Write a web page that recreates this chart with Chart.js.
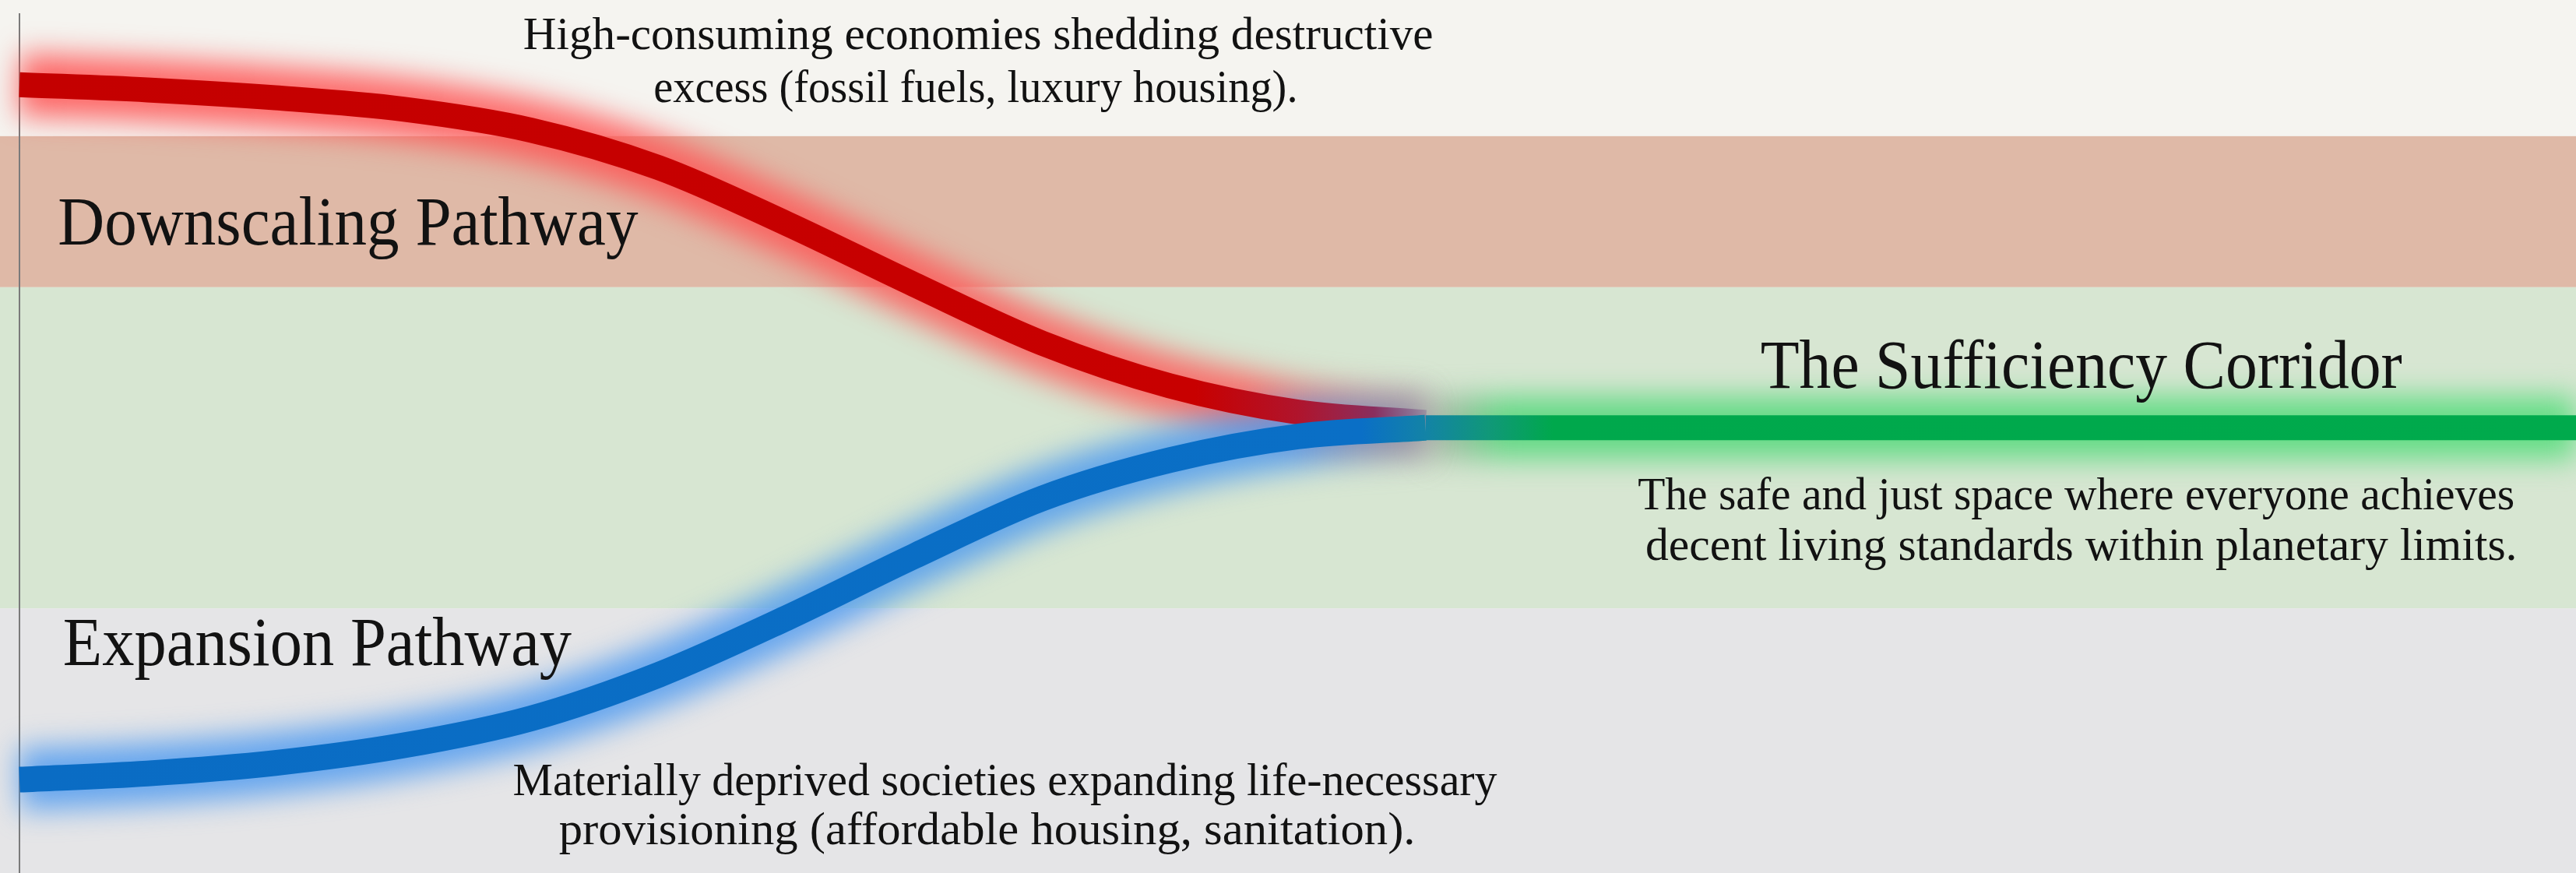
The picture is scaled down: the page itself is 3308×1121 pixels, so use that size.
<!DOCTYPE html>
<html lang="en">
<head>
<meta charset="UTF-8">
<title>The Sufficiency Corridor</title>
<script src="https://cdn.jsdelivr.net/npm/chart.js"></script>
<style>
  html, body { margin: 0; padding: 0; background: #f5f4f0; overflow: hidden; }
  .chart-container { position: relative; width: 3308px; height: 1121px; }
</style>
</head>
<body>
<div class="chart-container"><canvas id="corridorChart"></canvas></div>
<script>
// steps along the pathway (0 = left axis, 100 = right edge)
const steps = [0, 5, 10, 15, 20, 25, 30, 35, 40, 45, 50, 55];
// consumption level of each pathway (0 = bottom, 100 = top)
const downscaling = [90.3, 89.7, 88.8, 87.5, 85.1, 80.8, 74.4, 67.4, 60.7, 55.8, 52.8, 51.6];
const expansion = [10.7, 11.4, 12.6, 14.6, 17.7, 22.7, 29.2, 36.3, 42.9, 47.3, 50.0, 51.0];
const corridorSteps = [55, 100];
const corridor = [51.0, 51.0];

// zone limits on the consumption axis, top to bottom
const zoneEdges = [100, 84.4, 67.1, 30.3, 0];
const zoneColors = ['#f5f4f0', '#dfb9a7', '#d7e6d2', '#e5e5e7'];

// labels: each line has left/right extent and baseline in chart units
const labels = [
  { text: 'High-consuming economies shedding destructive', x0: 19.7, x1: 55.3, y: 94.4, size: 60 },
  { text: 'excess (fossil fuels, luxury housing).', x0: 24.8, x1: 50.0, y: 88.3, size: 60 },
  { text: 'Downscaling Pathway', x0: 1.5, x1: 24.2, y: 72.0, size: 88 },
  { text: 'The Sufficiency Corridor', x0: 68.1, x1: 93.2, y: 55.6, size: 88 },
  { text: 'The safe and just space where everyone achieves', x0: 63.3, x1: 97.6, y: 41.7, size: 60 },
  { text: 'decent living standards within planetary limits.', x0: 63.6, x1: 97.7, y: 35.9, size: 60 },
  { text: 'Expansion Pathway', x0: 1.7, x1: 21.6, y: 23.8, size: 88 },
  { text: 'Materially deprived societies expanding life-necessary', x0: 19.3, x1: 57.8, y: 8.9, size: 60 },
  { text: 'provisioning (affordable housing, sanitation).', x0: 21.1, x1: 54.6, y: 3.3, size: 60 }
];

const toPoints = (xs, ys) => xs.map((x, i) => ({ x: x, y: ys[i] }));

// horizontal gradient built from scale values
function gradient(chart, stops) {
  const area = chart.chartArea;
  if (!area) return stops[0][1];
  const xs = chart.scales.x;
  const g = chart.ctx.createLinearGradient(area.left, 0, area.right, 0);
  stops.forEach(s => {
    const p = (xs.getPixelForValue(s[0]) - area.left) / (area.right - area.left);
    g.addColorStop(Math.min(1, Math.max(0, p)), s[1]);
  });
  return g;
}

const zonesPlugin = {
  id: 'zones',
  beforeDraw(chart) {
    const ctx = chart.ctx;
    const y = chart.scales.y;
    ctx.save();
    for (let i = 0; i < zoneColors.length; i++) {
      const top = y.getPixelForValue(zoneEdges[i]);
      const bottom = y.getPixelForValue(zoneEdges[i + 1]);
      ctx.fillStyle = zoneColors[i];
      ctx.fillRect(0, top, chart.width, bottom - top);
    }
    // left axis line
    ctx.strokeStyle = '#7a7a7a';
    ctx.lineWidth = 2;
    ctx.beginPath();
    ctx.moveTo(chart.chartArea.left, 17);
    ctx.lineTo(chart.chartArea.left, chart.height);
    ctx.stroke();
    ctx.restore();
  }
};

// halo datasets are drawn through a blur filter
const glowPlugin = {
  id: 'glow',
  beforeDatasetDraw(chart, args) {
    const ds = chart.data.datasets[args.index];
    if (!ds.blur) return;
    chart.ctx.save();
    chart.ctx.filter = 'blur(' + ds.blur + 'px)';
  },
  afterDatasetDraw(chart, args) {
    if (chart.data.datasets[args.index].blur) chart.ctx.restore();
  }
};

const labelsPlugin = {
  id: 'labels',
  afterDatasetsDraw(chart) {
    const ctx = chart.ctx;
    const xs = chart.scales.x, ys = chart.scales.y;
    ctx.save();
    ctx.fillStyle = '#121212';
    ctx.textBaseline = 'alphabetic';
    ctx.textAlign = 'left';
    labels.forEach(l => {
      ctx.font = l.size + 'px "Liberation Serif", "Times New Roman", serif';
      const left = xs.getPixelForValue(l.x0);
      const width = xs.getPixelForValue(l.x1) - left;
      const natural = ctx.measureText(l.text).width;
      ctx.save();
      ctx.translate(left, ys.getPixelForValue(l.y));
      ctx.scale(width / natural, 1);
      ctx.fillText(l.text, 0, 0);
      ctx.restore();
    });
    ctx.restore();
  }
};

const ctxCorridor = document.getElementById('corridorChart').getContext('2d');
new Chart(ctxCorridor, {
  type: 'line',
  data: {
    datasets: [
      {
        label: 'Expansion Pathway',
        data: toPoints(steps, expansion),
        borderColor: c => gradient(c.chart, [[0, '#0a6cc4'], [52.5, '#0a6fc6'], [55, '#1383a6']]),
        borderWidth: 33,
        order: 0
      },
      {
        label: 'Downscaling Pathway',
        data: toPoints(steps, downscaling),
        borderColor: c => gradient(c.chart, [[0, '#c40000'], [46, '#c80000'], [50, '#b0142c'], [53, '#8a2e5e'], [55, 'rgba(110, 70, 130, 0.3)']]),
        borderWidth: 32,
        order: 1
      },
      {
        label: 'The Sufficiency Corridor',
        data: toPoints(corridorSteps, corridor),
        borderColor: c => gradient(c.chart, [[55, '#1383a6'], [57.5, '#109878'], [60, '#00a84c'], [100, '#00aa4c']]),
        borderWidth: 32,
        order: 2
      },
      {
        label: 'halo expansion',
        data: toPoints(steps, expansion),
        borderColor: c => gradient(c.chart, [[0, 'rgba(70, 150, 240, 0.8)'], [50, 'rgba(70, 150, 240, 0.8)'], [55, 'rgba(130, 130, 150, 0.5)']]),
        borderWidth: 80,
        blur: 18,
        order: 10
      },
      {
        label: 'halo downscaling',
        data: toPoints(steps, downscaling),
        borderColor: c => gradient(c.chart, [[0, 'rgba(255, 80, 80, 0.85)'], [48, 'rgba(255, 85, 85, 0.8)'], [55, 'rgba(160, 120, 140, 0.5)']]),
        borderWidth: 80,
        blur: 18,
        order: 11
      },
      {
        label: 'halo corridor',
        data: toPoints(corridorSteps, corridor),
        borderColor: c => gradient(c.chart, [[55, 'rgba(130, 140, 130, 0.45)'], [58, 'rgba(80, 215, 120, 0.85)'], [100, 'rgba(80, 220, 120, 0.85)']]),
        borderWidth: 80,
        blur: 18,
        order: 12
      }
    ]
  },
  options: {
    responsive: true,
    maintainAspectRatio: false,
    animation: false,
    layout: { padding: { left: 25, right: 0, top: 0, bottom: 0 } },
    elements: {
      point: { radius: 0 },
      line: { cubicInterpolationMode: 'monotone', borderCapStyle: 'butt', fill: false }
    },
    datasets: { line: { clip: false } },
    plugins: {
      legend: { display: false },
      tooltip: { enabled: false }
    },
    scales: {
      x: { type: 'linear', min: 0, max: 100, display: false },
      y: { min: 0, max: 100, display: false }
    }
  },
  plugins: [zonesPlugin, glowPlugin, labelsPlugin]
});
</script>
</body>
</html>
